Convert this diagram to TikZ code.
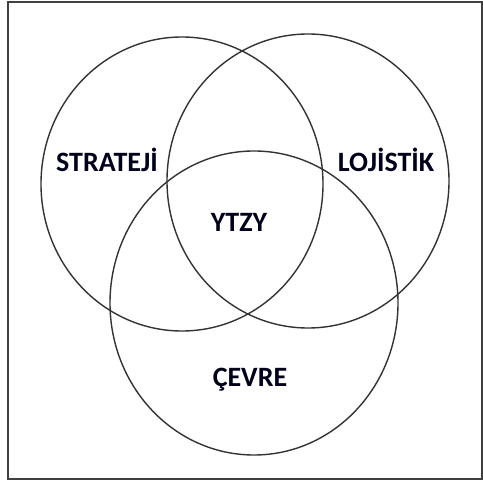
\documentclass[tikz,border=0pt]{standalone}
\usepackage{fontspec}
\setmainfont{Carlito}
\begin{document}
\begin{tikzpicture}[x=1pt,y=-1pt,
  venn/.style={draw=black!80,line width=1.4pt},
  lbl/.style={font=\bfseries\fontsize{28}{32}\selectfont,text=black!90!blue,anchor=base,inner sep=0pt}]
\useasboundingbox (0,0) rectangle (483,481);
\draw[draw=black!75,line width=2pt] (8,2) rectangle (482,479);
\draw[venn] (182,184) ellipse [x radius=141,y radius=147];
\draw[venn] (308,181) ellipse [x radius=141,y radius=147];
\draw[venn] (254,303) ellipse [x radius=144,y radius=152];
\node[lbl] (s) at (107,172) {STRATEJİ};
\node[lbl] (l) at (386,172) {LOJİSTİK};
\node[lbl] (y) at (239,232) {YTZY};
\node[lbl] (c) at (250,387) {ÇEVRE};
\end{tikzpicture}
\end{document}
